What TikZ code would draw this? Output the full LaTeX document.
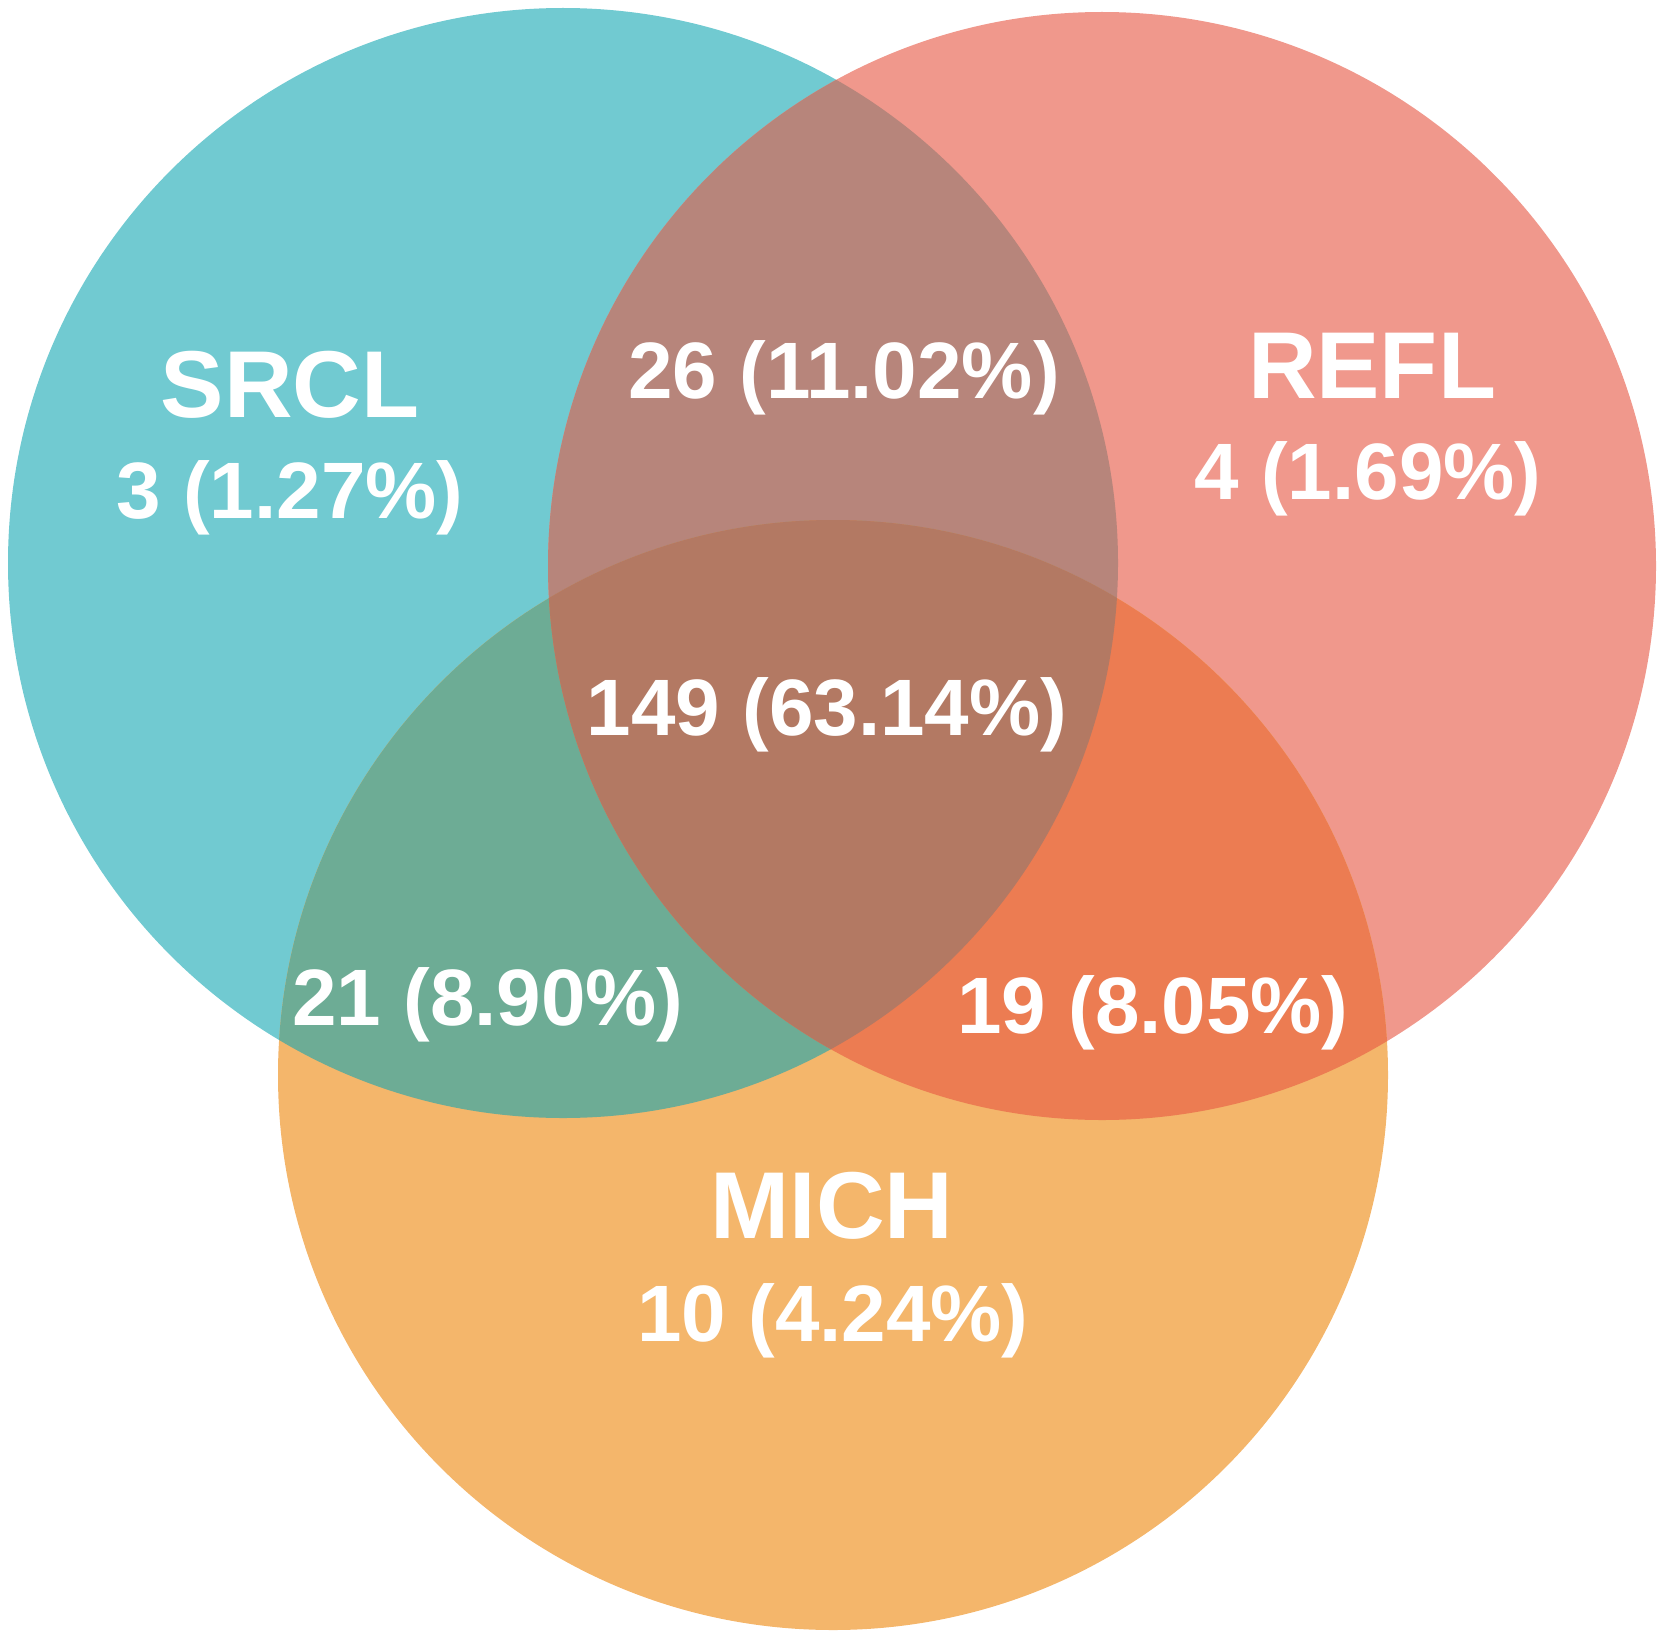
\documentclass[tikz,border=0pt]{standalone}
\usepackage{fontspec}
\setmainfont{Liberation Sans}
\definecolor{cA}{HTML}{71CAD1}
\definecolor{cB}{HTML}{F0988C}
\definecolor{cC}{HTML}{F4B66B}
\definecolor{cAB}{HTML}{B7857B}
\definecolor{cAC}{HTML}{6DAC95}
\definecolor{cBC}{HTML}{EC7C52}
\definecolor{cABC}{HTML}{B37963}
\tikzset{
  lbl/.style={text=white,font=\bfseries\fontsize{80}{90}\selectfont,inner sep=0pt,anchor=center},
  ttl/.style={text=white,font=\bfseries\fontsize{95}{100}\selectfont,inner sep=0pt,anchor=center}
}
\begin{document}
\begin{tikzpicture}[x=1pt,y=-1pt]
\useasboundingbox (0,0) rectangle (1667,1640);
\def\pA{(563,563) circle (555)}
\def\pB{(1102,566) circle (554)}
\def\pC{(833,1075) circle (555)}
\fill[cA] \pA;
\fill[cB] \pB;
\fill[cC] \pC;
\begin{scope}\clip \pA; \fill[cAB] \pB; \end{scope}
\begin{scope}\clip \pA; \fill[cAC] \pC; \end{scope}
\begin{scope}\clip \pB; \fill[cBC] \pC; \end{scope}
\begin{scope}\clip \pA; \clip \pB; \fill[cABC] \pC; \end{scope}
\node[ttl] (srcl) at (290,385) {SRCL};
\node[lbl] (srclv) at (290,498) {3 (1.27\%)};
\node[ttl] (refl) at (1372,366) {REFL};
\node[lbl] (reflv) at (1368,479) {4 (1.69\%)};
\node[ttl] (mich) at (832,1206) {MICH};
\node[lbl] (michv) at (833,1321) {10 (4.24\%)};
\node[lbl] (ab) at (844,378) {26 (11.02\%)};
\node[lbl] (abc) at (827,715) {149 (63.14\%)};
\node[lbl] (ac) at (488,1005) {21 (8.90\%)};
\node[lbl] (bc) at (1153,1013) {19 (8.05\%)};
\end{tikzpicture}
\end{document}
